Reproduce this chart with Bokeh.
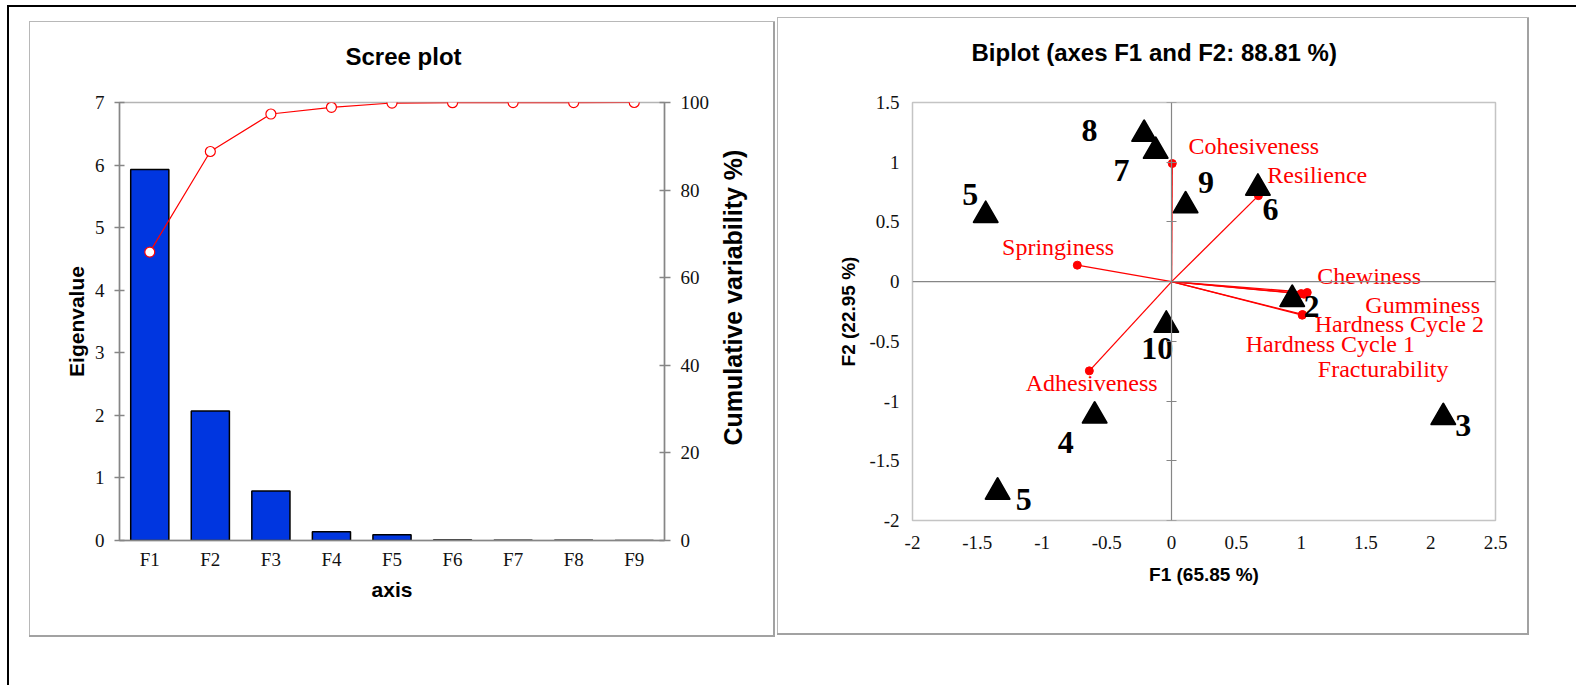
import math
from bokeh.plotting import figure
from bokeh.models import (ColumnDataSource, FactorRange, Range1d, LinearAxis, Title,
                          Span, Spacer, FixedTicker)
from bokeh.layouts import row, column
from bokeh.embed import file_html
from bokeh.resources import INLINE
from bokeh.core.properties import value

# ---------------- Scree plot data ----------------
factors = ["F1", "F2", "F3", "F4", "F5", "F6", "F7", "F8", "F9"]
eigenvalues = [5.93, 2.07, 0.79, 0.14, 0.09, 0.006, 0.004, 0.002, 0.001]
cumulative = [65.85, 88.81, 97.37, 98.90, 99.88, 99.95, 99.98, 99.99, 100.0]
eig_ticks = [0, 1, 2, 3, 4, 5, 6, 7]
cum_ticks = [0, 20, 40, 60, 80, 100]

# ---------------- Biplot data ----------------
obs_names = ["8", "7", "5", "9", "6", "2", "10", "4", "5", "3"]
obs_f1 = [-0.212, -0.123, -1.435, 0.108, 0.666, 0.931, -0.041, -0.594, -1.343, 2.097]
obs_f2 = [1.235, 1.093, 0.556, 0.636, 0.784, -0.147, -0.363, -1.124, -1.761, -1.137]
obs_label_f1 = [-0.633, -0.386, -1.555, 0.265, 0.764, 1.080, -0.110, -0.818, -1.142, 2.252]
obs_label_f2 = [1.263, 0.930, 0.729, 0.833, 0.601, -0.209, -0.559, -1.350, -1.823, -1.205]

var_names = ["Cohesiveness", "Resilience", "Springiness", "Adhesiveness", "Chewiness",
             "Gumminess", "Hardness Cycle 2", "Hardness Cycle 1", "Fracturability"]
var_f1 = [0.005, 0.67, -0.728, -0.635, 1.047, 1.021, 1.000, 1.008, 1.010]
var_f2 = [0.989, 0.72, 0.138, -0.747, -0.091, -0.105, -0.100, -0.281, -0.275]
var_label_f1 = [0.635, 1.124, -0.876, -0.617, 1.525, 1.938, 1.758, 1.225, 1.633]
var_label_f2 = [1.135, 0.896, 0.286, -0.848, 0.049, -0.194, -0.356, -0.523, -0.733]

f1_ticks = [-2, -1.5, -1, -0.5, 0, 0.5, 1, 1.5, 2, 2.5]
f1_tick_labels = ["-2", "-1.5", "-1", "-0.5", "0", "0.5", "1", "1.5", "2", "2.5"]
f2_ticks = [-2, -1.5, -1, -0.5, 0, 0.5, 1, 1.5]
f2_tick_labels = ["-2", "-1.5", "-1", "-0.5", "0", "0.5", "1", "1.5"]

SERIF = "Liberation Serif"
SANS = "Liberation Sans"
AXIS_GRAY = "#868686"
TICK_FONT = "19px"
TOP_H = 67  # height of the strip that carries each chart title


def style_axis_label(ax, size):
    ax.axis_label_text_font = SANS
    ax.axis_label_text_font_style = "bold"
    ax.axis_label_text_font_size = size
    ax.axis_label_text_color = "black"


def blank_canvas(width, height, **borders):
    f = figure(width=width, height=height, output_backend="svg", toolbar_location=None,
               x_axis_location=None, y_axis_location=None, **borders)
    f.grid.visible = False
    f.outline_line_color = None
    f.border_fill_color = "white"
    f.background_fill_color = "white"
    return f


def title_strip(width, text, left_px):
    f = blank_canvas(width, TOP_H, min_border_left=0, min_border_right=0,
                     min_border_top=0, min_border_bottom=0)
    f.title = Title(text=text, align="left", offset=left_px, vertical_align="bottom",
                    standoff=40, text_font=SANS, text_font_style="bold",
                    text_font_size="24px", text_color="black")
    return f


# ---------------- Scree plot ----------------
P1_W = 685
P1_H = 613 - TOP_H
p1 = figure(width=P1_W, height=P1_H, x_range=FactorRange(factors=factors),
            y_range=Range1d(0, 7), output_backend="svg", toolbar_location=None,
            min_border_left=89, min_border_right=P1_W - 89 - 545,
            min_border_top=80 - TOP_H, min_border_bottom=95)
p1.extra_y_ranges = {"cum": Range1d(0, 100)}
p1.grid.visible = False
p1.outline_line_color = "#b4b4b4"
p1.outline_line_width = 1.5
p1.border_fill_color = "white"

src1 = ColumnDataSource(dict(axis=factors, eig=eigenvalues, cum=cumulative))
p1.vbar(x="axis", top="eig", width=0.63, source=src1, fill_color="#0036e0",
        line_color="black", line_width=1.5)
p1.line(x="axis", y="cum", source=src1, y_range_name="cum", line_color="#ff0000", line_width=1.2)
p1.scatter(x="axis", y="cum", source=src1, y_range_name="cum", marker="circle", size=10,
           fill_color="white", line_color="#ff0000", line_width=1.2)

xa1 = p1.below[0]
ya1 = p1.left[0]
for ax in (xa1, ya1):
    ax.axis_line_color = AXIS_GRAY
    ax.axis_line_width = 1.5
    ax.major_tick_line_color = AXIS_GRAY
    ax.major_tick_line_width = 1.5
    ax.minor_tick_line_color = None
    ax.major_label_text_font = SERIF
    ax.major_label_text_font_size = TICK_FONT
    ax.major_label_text_color = "#111111"

xa1.major_tick_line_color = None
xa1.major_label_standoff = 2
xa1.axis_label = "axis"
xa1.axis_label_standoff = 5
style_axis_label(xa1, "21px")
ya1.ticker = FixedTicker(ticks=eig_ticks)
ya1.major_tick_in = 5
ya1.major_tick_out = 5
ya1.major_label_standoff = 10
ya1.axis_label = "Eigenvalue"
ya1.axis_label_standoff = 4
style_axis_label(ya1, "21px")

rax = LinearAxis(y_range_name="cum", ticker=FixedTicker(ticks=cum_ticks),
                 axis_line_color=AXIS_GRAY, axis_line_width=1.5,
                 major_tick_line_color=AXIS_GRAY, major_tick_line_width=1.5,
                 minor_tick_line_color=None, major_tick_in=5, major_tick_out=6,
                 major_label_standoff=10, major_label_text_font=SERIF,
                 major_label_text_font_size=TICK_FONT, major_label_text_color="#111111")
p1.add_layout(rax, "right")

# narrow companion canvas carrying the right-hand axis title (reads bottom to top)
p1_lab = blank_canvas(743 - P1_W, P1_H, min_border_left=32, min_border_right=0,
                      min_border_top=80 - TOP_H, min_border_bottom=95)
p1_lab.add_layout(Title(text="Cumulative variability %)", align="left", offset=95,
                        vertical_align="middle", standoff=5, text_font=SANS,
                        text_font_style="bold", text_font_size="25px", text_color="black"),
                  "left")

p1_top = title_strip(743, "Scree plot", 315)

# ---------------- Biplot ----------------
P2_H = 615 - TOP_H
p2 = figure(width=749, height=P2_H, x_range=Range1d(-2, 2.5), y_range=Range1d(-2, 1.5),
            output_backend="svg", toolbar_location=None,
            min_border_left=134, min_border_right=32, min_border_top=84 - TOP_H,
            min_border_bottom=113)
p2.grid.visible = False
p2.outline_line_color = "#c4c4c4"
p2.outline_line_width = 1.5
p2.border_fill_color = "white"

xa2 = p2.below[0]
ya2 = p2.left[0]
for ax in (xa2, ya2):
    ax.axis_line_color = None
    ax.major_tick_line_color = None
    ax.minor_tick_line_color = None
    ax.major_label_text_font = SERIF
    ax.major_label_text_font_size = TICK_FONT
    ax.major_label_text_color = "#111111"
xa2.ticker = FixedTicker(ticks=f1_ticks)
xa2.major_label_overrides = {t: s for t, s in zip(f1_ticks, f1_tick_labels)}
xa2.major_label_standoff = 9
xa2.axis_label = "F1 (65.85 %)"
xa2.axis_label_standoff = 12
style_axis_label(xa2, "19px")
ya2.ticker = FixedTicker(ticks=f2_ticks)
ya2.major_label_overrides = {t: s for t, s in zip(f2_ticks, f2_tick_labels)}
ya2.major_label_standoff = 7
ya2.axis_label = "F2 (22.95 %)"
ya2.axis_label_standoff = 7
style_axis_label(ya2, "19px")

zero_axis = LinearAxis(fixed_location=0, ticker=FixedTicker(ticks=f2_ticks),
                       axis_line_color=AXIS_GRAY, axis_line_width=1.2,
                       major_tick_line_color=AXIS_GRAY, major_tick_line_width=1.2,
                       minor_tick_line_color=None, major_tick_in=5, major_tick_out=5,
                       major_label_text_font_size="0px", major_label_standoff=0)
zero_axis.major_label_overrides = {t: "" for t in f2_ticks}
p2.add_layout(zero_axis, "right")
p2.add_layout(Span(location=0, dimension="width", line_color=AXIS_GRAY, line_width=1.2))

vsrc = ColumnDataSource(dict(name=var_names, x=var_f1, y=var_f2, lx=var_label_f1, ly=var_label_f2))
p2.segment(x0=0, y0=0, x1="x", y1="y", source=vsrc, line_color="#ff0000", line_width=1.3)
p2.scatter(x="x", y="y", source=vsrc, marker="circle", size=8, fill_color="#ff0000",
           line_color="#ff0000")

osrc = ColumnDataSource(dict(name=obs_names, x=obs_f1, y=obs_f2, lx=obs_label_f1, ly=obs_label_f2))
p2.scatter(x="x", y="y", source=osrc, marker="triangle", size=24, fill_color="black",
           line_color="black", line_width=2, line_join="round")

p2.text(x="lx", y="ly", text="name", source=vsrc, text_font=value(SERIF),
        text_font_size=value("24px"), text_color="#ff0000", text_align="center",
        text_baseline="middle")
p2.text(x="lx", y="ly", text="name", source=osrc, text_font=value(SERIF),
        text_font_style="bold", text_font_size=value("32px"), text_color="black",
        text_align="center", text_baseline="middle")

# the strip shares the biplot's frame alignment, so the offset is measured from its frame
p2_top = title_strip(749, "Biplot (axes F1 and F2: 88.81 %)", 59)

# ---------------- page layout ----------------
LIGHT = "#b8b8b8"
DARK = "#a2a2a2"


def framed(content, w, h):
    top = Spacer(width=w + 3, height=1, styles={"background-color": LIGHT})
    left = Spacer(width=1, height=h, styles={"background-color": LIGHT})
    right = Spacer(width=2, height=h, styles={"background-color": DARK})
    bottom = Spacer(width=w + 3, height=2, styles={"background-color": DARK})
    return column(top, row(left, content, right), bottom)


top_line = Spacer(width=1569, height=2, styles={"background-color": "black"})
left_line = Spacer(width=2, height=678, styles={"background-color": "black"})

panel1 = column(p1_top, row(p1, p1_lab))
panel2 = column(p2_top, p2)

layout = row(
    Spacer(width=7, height=10),
    column(
        Spacer(width=10, height=5),
        top_line,
        row(
            left_line,
            Spacer(width=20, height=10),
            column(Spacer(width=10, height=14), framed(panel1, 743, 613)),
            Spacer(width=2, height=10),
            column(Spacer(width=10, height=10), framed(panel2, 749, 615)),
        ),
    ),
)

open("out.html", "w").write(file_html(layout, INLINE))
